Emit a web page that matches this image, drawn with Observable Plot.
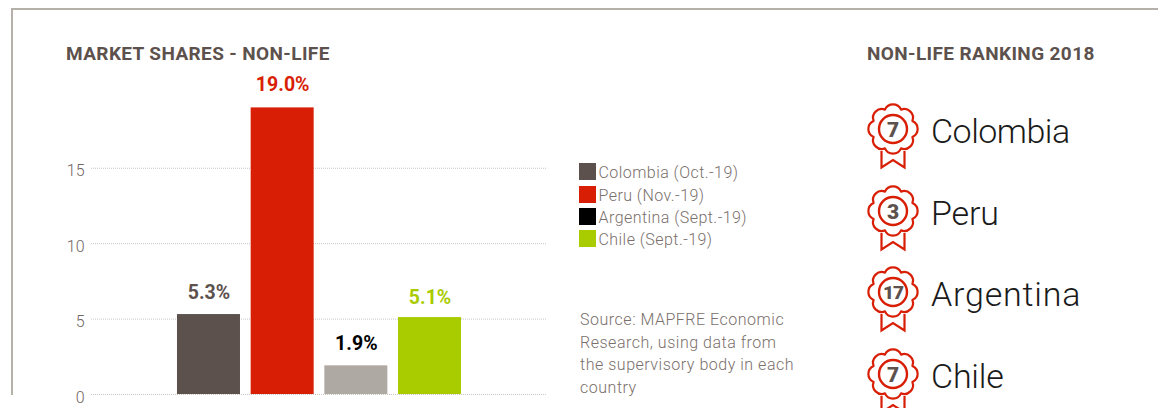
<!DOCTYPE html>
<html>
<head>
<meta charset="utf-8">
<script src="https://cdn.jsdelivr.net/npm/d3@7"></script>
<script src="https://cdn.jsdelivr.net/npm/@observablehq/plot@0.6"></script>
<style>
html,body{margin:0;padding:0;background:#fff;width:1158px;height:408px;overflow:hidden;font-family:Roboto,sans-serif}
#stage{position:relative;width:1158px;height:408px;overflow:hidden}
#stage>svg{position:absolute;left:0;top:0}
.abs{position:absolute;white-space:nowrap;line-height:1}
.frameT{position:absolute;left:11px;top:8px;right:0;height:2px;background:#b5b1aa}
.frameL{position:absolute;left:11px;top:8px;width:2px;height:387px;background:#b5b1aa}
.title{font-weight:700;font-size:19px;letter-spacing:.38px;color:#5d514d}
.leg{font-size:16px;font-weight:300;letter-spacing:.45px;color:#7a6f6b}
.src{font-size:16px;font-weight:300;letter-spacing:.52px;color:#7a6f6b}
.rank{font-size:34px;font-weight:300;color:#1a1a1a}
</style>
</head>
<body>
<div id="stage"></div>
<script>
const countries = ["Colombia", "Peru", "Argentina", "Chile"];
const shares = [5.3, 19.0, 1.9, 5.1];
const barColors = ["#5d514d", "#d81e05", "#aea9a2", "#a9cc00"];
const labelColors = ["#5d514d", "#d81e05", "#000000", "#a9cc00"];
const swatchColors = ["#5d514d", "#d81e05", "#000000", "#a9cc00"];
const periods = ["Oct.-19", "Nov.-19", "Sept.-19", "Sept.-19"];
const ranks = [7, 3, 17, 7];
const yTicks = [0, 5, 10, 15];
const sourceLines = ["Source: MAPFRE Economic", "Research, using data from", "the supervisory body in each", "country"];

const rows = countries.map((c, i) => ({country: c, share: shares[i], bar: barColors[i], label: labelColors[i]}));
const labelDy = [-22, -23, -22, -20];

const chart = Plot.plot({
  width: 1158,
  height: 408,
  marginLeft: 91,
  marginRight: 612,
  marginTop: 0,
  marginBottom: 14,
  style: {background: "transparent", fontFamily: "Roboto, sans-serif", overflow: "visible"},
  x: {domain: countries, range: [166.3, 471.7], padding: 0.145, round: false, axis: null},
  y: {domain: [0, 19], range: [394, 107.4], axis: null},
  marks: [
    Plot.ruleY(yTicks, {stroke: "#c9c5c0", strokeWidth: 1, strokeDasharray: "1,1"}),
    Plot.axisY(yTicks, {
      anchor: "left", tickSize: 0, tickPadding: 7, label: null, dy: 3,
      fontSize: 16, fontWeight: 300, fill: "#6f6561"
    }),
    Plot.barY(rows, {x: "country", y: "share", fill: "bar"}),
    ...rows.map((r, i) => Plot.text([r], {
      x: "country", y: "share", text: d => d.share.toFixed(1) + "%",
      dy: labelDy[i], fill: "label", fontSize: 19.5, fontWeight: 700,
      style: {letterSpacing: "0.3px"}
    }))
  ]
});

const stage = document.getElementById("stage");
stage.appendChild(chart);

function add(cls, left, cy, text, extra) {
  const el = document.createElement("div");
  el.className = "abs " + cls;
  el.textContent = text;
  el.style.left = left + "px";
  el.style.top = cy + "px";
  el.style.transform = "translateY(-50%)";
  if (extra) Object.assign(el.style, extra);
  stage.appendChild(el);
  return el;
}
["frameT", "frameL"].forEach(c => { const d = document.createElement("div"); d.className = c; stage.appendChild(d); });

add("title", 66, 52.5, "MARKET SHARES - NON-LIFE");
add("title", 867, 52.5, "NON-LIFE RANKING 2018");

const legendTops = [171, 194, 216, 238];
countries.forEach((c, i) => {
  const s = document.createElement("div");
  s.style.cssText = `position:absolute;left:579px;top:${legendTops[i] - 8}px;width:17px;height:17px;background:${swatchColors[i]}`;
  stage.appendChild(s);
  add("leg", 598.5, legendTops[i] + 2, `${c} (${periods[i]})`);
});

const srcY = [320, 343, 365, 388];
sourceLines.forEach((t, i) => add("src", 580, srcY[i], t));

const medalY = [129, 211, 292, 374];
const rankSpacing = [-0.5, -0.2, 0.8, -0.2];
const ns = "http://www.w3.org/2000/svg";
function medal(cy, rank) {
  const svg = document.createElementNS(ns, "svg");
  svg.setAttribute("width", 60); svg.setAttribute("height", 70);
  svg.setAttribute("viewBox", "-30 -30 60 70");
  svg.style.cssText = `position:absolute;left:${893 - 30}px;top:${cy - 30}px;overflow:visible`;
  const n = 8, R = 21;
  let d = "";
  for (let i = 0; i <= n; i++) {
    const a = (i - 0.5) * 2 * Math.PI / n - Math.PI / 2;
    const x = (R * Math.cos(a)).toFixed(2), y = (R * Math.sin(a)).toFixed(2);
    d += i === 0 ? `M${x},${y}` : `A8.8,8.8 0 0 1 ${x},${y}`;
  }
  const p = (tag, at) => { const e = document.createElementNS(ns, tag); for (const k in at) e.setAttribute(k, at[k]); svg.appendChild(e); return e; };
  p("path", {d: d + "Z", fill: "none", stroke: "#d81e05", "stroke-width": 2.2, "stroke-linejoin": "round"});
  p("circle", {r: 14, fill: "none", stroke: "#d81e05", "stroke-width": 2.4});
  p("path", {d: "M-11.5,22 V38.5 L0,31 L11.5,38.5 V22", fill: "none", stroke: "#d81e05", "stroke-width": 2.2});
  const t = p("text", {y: 0.5, "text-anchor": "middle", "dominant-baseline": "central", fill: "#5d514d", "font-size": rank > 9 ? 19 : 21, "font-weight": 900, "letter-spacing": rank > 9 ? -1 : 0, "font-family": "Roboto, sans-serif"});
  t.textContent = rank;
  stage.appendChild(svg);
}
countries.forEach((c, i) => {
  medal(medalY[i], ranks[i]);
  add("rank", 931, medalY[i] + 2, c, {letterSpacing: rankSpacing[i] + "px"});
});
</script>
</body>
</html>
